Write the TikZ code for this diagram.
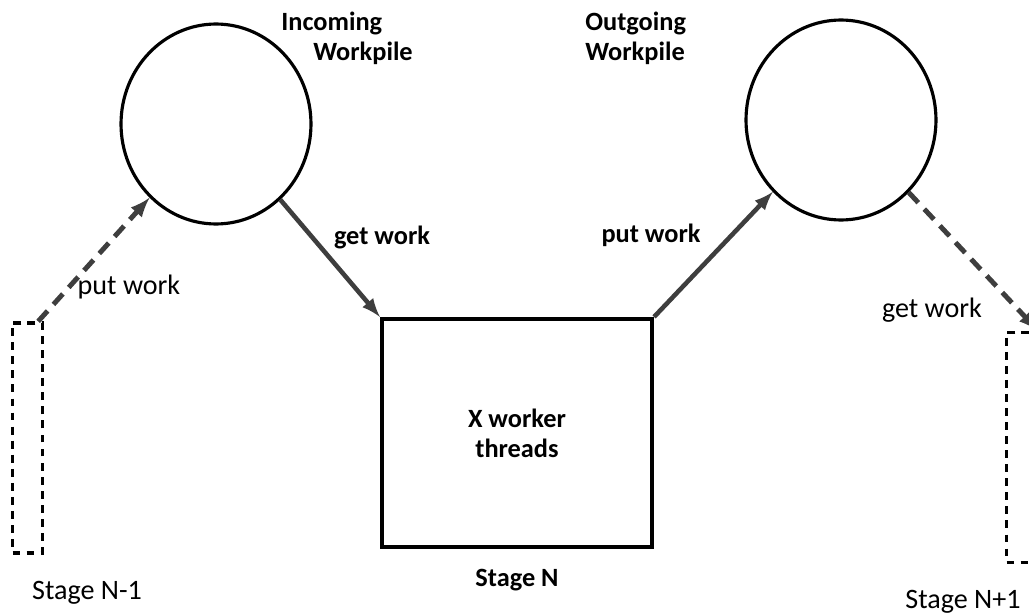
\documentclass[tikz,border=0pt]{standalone}
\usepackage{fontspec}
\setmainfont{Carlito}
\usetikzlibrary{positioning,arrows,shapes.geometric}
\definecolor{flowgray}{RGB}{62,62,62}

\begin{document}
\begin{tikzpicture}[x=0.02cm, y=-0.02cm,
pile/.style={draw, ellipse, line width=1.8pt, minimum width=3.8cm, minimum height=4cm, inner sep=0pt},
stagebox/.style={draw, line width=2.4pt, minimum width=5.4cm, minimum height=4.56cm, align=center, font=\bfseries\fontsize{15}{17}\selectfont},
dashbox/.style={draw, line width=1.9pt, dash pattern=on 4.5pt off 3.5pt, minimum width=0.6cm, minimum height=4.6cm, inner sep=0pt},
flow/.style={draw=flowgray, line width=2.6pt, -latex},
dflow/.style={draw=flowgray, line width=2.8pt, dash pattern=on 8pt off 5pt, -latex},
lbl/.style={font=\fontsize{16}{18}\selectfont, inner sep=0pt},
blbl/.style={inner sep=0pt, font=\bfseries\fontsize{15}{17}\selectfont}
]
\useasboundingbox (0,0) rectangle (1029,615);

% work piles
\node[pile] (inpile) at (216,124) {};
\node[pile] (outpile) at (841,120) {};
\node[blbl, anchor=north west, align=left] (inlabel) at (281,12) {Incoming\\\hspace*{0.64cm}Workpile};
\node[blbl, anchor=north west, align=left] (outlabel) at (585,12) {Outgoing\\Workpile};

% stages
\node[stagebox] (stage) at (517,433) {X worker\\threads};
\node[dashbox] (prev) at (27.5,438) {};
\node[dashbox] (next) at (1021.5,447.5) {};
\node[blbl] (stagelabel) at (517,580) {Stage N};
\node[lbl] (prevlabel) at (87,593) {Stage N-1};
\node[lbl] (nextlabel) at (963,602) {Stage N+1};

% work flow
\draw[flow] (inpile) -- (stage.north west);
\draw[flow] (stage.north east) -- (outpile);
\draw[dflow] ([xshift=-0.12cm]prev.north east) -- (inpile);
\draw[dflow] (outpile) -- (next.north east);

\node[blbl] (getmid) at (382,237) {get work};
\node[blbl] (putmid) at (651,235) {put work};
\node[lbl] (putprev) at (129,287) {put work};
\node[lbl] (getnext) at (932,310) {get work};
\end{tikzpicture}
\end{document}
